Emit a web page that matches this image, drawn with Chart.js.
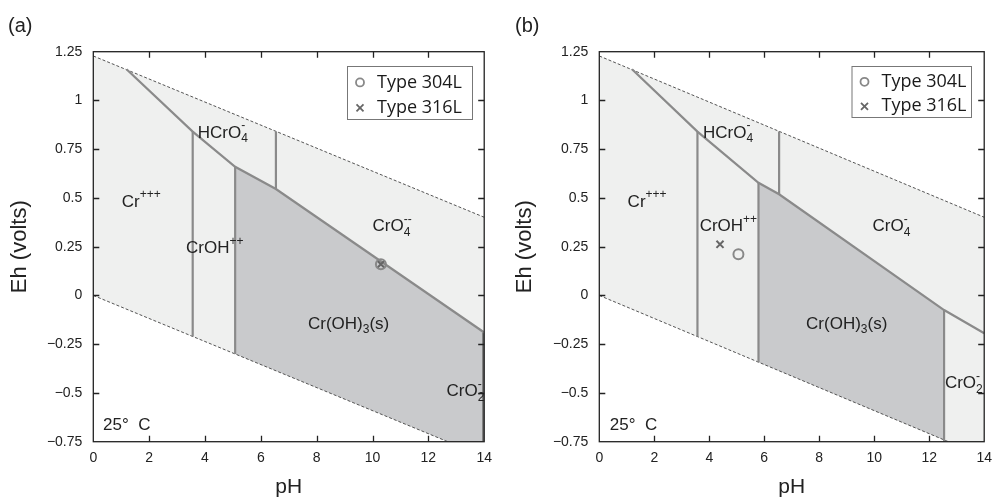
<!DOCTYPE html>
<html>
<head>
<meta charset="utf-8">
<script src="https://cdn.jsdelivr.net/npm/chart.js@4.4.0/dist/chart.umd.min.js"></script>
<style>
  body { margin: 0; background: #fff; width: 1000px; height: 498px; overflow: hidden; position: relative; }
  .panel { position: absolute; top: 0; width: 500px; height: 498px; }
  .tag { position: absolute; top: 14px; font: 20px "Liberation Sans", Arial, sans-serif; color: #222; }
</style>
</head>
<body>
<div class="panel" style="left:0"><canvas id="chartA" width="500" height="498"></canvas></div>
<div class="panel" style="left:500px"><canvas id="chartB" width="500" height="498"></canvas></div>
<div class="tag" style="left:8px">(a)</div>
<div class="tag" style="left:515px">(b)</div>
<script>
// axes
const xTicks = [0, 2, 4, 6, 8, 10, 12, 14];
const yTicks = [-0.75, -0.5, -0.25, 0, 0.25, 0.5, 0.75, 1, 1.25];
const yTickLabels = ['\u22120.75', '\u22120.5', '\u22120.25', '0', '0.25', '0.5', '0.75', '1', '1.25'];

// water stability lines
const waterPH = [0, 14];
const waterUpperEh = [1.228, 0.401];
const waterLowerEh = [0, -0.827];

// panel (a)
const aBoundaryPH = [1.19, 3.56, 5.08, 6.54, 14];
const aBoundaryEh = [1.16, 0.84, 0.66, 0.546, -0.19];
const aSolidTopPH = [5.08, 6.54, 14];
const aSolidTopEh = [0.66, 0.546, -0.19];
const aSolidBottomPH = [5.08, 14];
const aSolidBottomEh = [-0.30, -0.827];
const aVerticalPH = [3.56, 5.08, 6.54, 13.97];
const aVerticalFromEh = [0.84, 0.66, 0.546, -0.19];
const aVerticalToEh = [-0.21, -0.30, 0.841, -0.75];
const a304LPH = [10.3];
const a304LEh = [0.16];
const a316LPH = [10.3];
const a316LEh = [0.16];

// panel (b)
const bBoundaryPH = [1.19, 3.57, 5.79, 6.54, 12.54, 14];
const bBoundaryEh = [1.16, 0.84, 0.578, 0.519, -0.075, -0.194];
const bSolidTopPH = [5.79, 6.54, 12.54];
const bSolidTopEh = [0.578, 0.519, -0.075];
const bSolidBottomPH = [5.79, 12.54];
const bSolidBottomEh = [-0.342, -0.741];
const bVerticalPH = [3.57, 5.79, 6.54, 12.54];
const bVerticalFromEh = [0.84, 0.578, 0.519, -0.075];
const bVerticalToEh = [-0.211, -0.342, 0.841, -0.75];
const b304LPH = [5.06];
const b304LEh = [0.211];
const b316LPH = [4.39];
const b316LEh = [0.262];

// species labels (text pieces + anchor in pH / Eh)
const aLabels = [
  { parts: [{ t: 'Cr' }, { sup: '+++' }], x: 1.02, y: 0.48 },
  { parts: [{ t: 'HCrO' }, { sub: '4', sup: '-' }], x: 3.74, y: 0.833 },
  { parts: [{ t: 'CrOH' }, { sup: '++' }], x: 3.32, y: 0.242 },
  { parts: [{ t: 'CrO' }, { sub: '4', sup: '--' }], x: 10.0, y: 0.353 },
  { parts: [{ t: 'Cr(OH)' }, { sub: '3' }, { t: '(s)' }], x: 7.69, y: -0.146 },
  { parts: [{ t: 'CrO' }, { sub: '2', sup: '-' }], x: 12.65, y: -0.494 },
  { parts: [{ t: '25\u00b0  C' }], x: 0.35, y: -0.664 }
];
const bLabels = [
  { parts: [{ t: 'Cr' }, { sup: '+++' }], x: 1.03, y: 0.48 },
  { parts: [{ t: 'HCrO' }, { sub: '4', sup: '-' }], x: 3.77, y: 0.833 },
  { parts: [{ t: 'CrOH' }, { sup: '++' }], x: 3.65, y: 0.353 },
  { parts: [{ t: 'CrO' }, { sub: '4', sup: '-' }], x: 9.94, y: 0.353 },
  { parts: [{ t: 'Cr(OH)' }, { sub: '3' }, { t: '(s)' }], x: 7.52, y: -0.146 },
  { parts: [{ t: 'CrO' }, { sub: '2', sup: '-' }], x: 12.57, y: -0.45 },
  { parts: [{ t: '25\u00b0  C' }], x: 0.38, y: -0.664 }
];

const FONT = '"Liberation Sans", Arial, sans-serif';
Chart.defaults.font.family = FONT;
Chart.defaults.color = '#222';

const LIGHT = '#eff0ef';
const DARK = '#c9cacc';
const EDGE = '#8a8a8a';

function pts(ph, eh) {
  return ph.map((x, i) => ({ x: x, y: eh[i] }));
}

function line(ph, eh, style) {
  return Object.assign({
    data: pts(ph, eh), showLine: true, pointRadius: 0, borderWidth: 0,
    fill: false, tension: 0
  }, style);
}

function drawChem(ctx, x, y, parts) {
  ctx.textBaseline = 'middle';
  ctx.textAlign = 'left';
  ctx.fillStyle = '#222';
  parts.forEach(p => {
    if (p.t) {
      ctx.font = '17px ' + FONT;
      ctx.fillText(p.t, x, y);
      x += ctx.measureText(p.t).width;
    } else {
      ctx.font = '12px ' + FONT;
      let w = 0;
      if (p.sub) {
        ctx.fillText(p.sub, x, y + 6);
        w = ctx.measureText(p.sub).width;
      }
      if (p.sup) {
        ctx.fillText(p.sup, x, y - 7);
        w = Math.max(w, ctx.measureText(p.sup).width);
      }
      x += w;
    }
  });
}

const labelPlugin = {
  id: 'speciesLabels',
  afterDatasetsDraw(chart, args, opts) {
    const ctx = chart.ctx;
    ctx.save();
    opts.items.forEach(l => {
      drawChem(ctx, chart.scales.x.getPixelForValue(l.x), chart.scales.y.getPixelForValue(l.y), l.parts);
    });
    ctx.restore();
  }
};

// inward ticks on all four sides plus the frame
const framePlugin = {
  id: 'frame',
  afterDatasetsDraw(chart) {
    const { ctx, chartArea: a, scales } = chart;
    ctx.save();
    ctx.strokeStyle = '#222';
    ctx.lineWidth = 1.3;
    ctx.strokeRect(a.left, a.top, a.right - a.left, a.bottom - a.top);
    ctx.beginPath();
    xTicks.slice(1, -1).forEach(v => {
      const px = Math.round(scales.x.getPixelForValue(v)) + 0.5;
      ctx.moveTo(px, a.bottom); ctx.lineTo(px, a.bottom - 6);
      ctx.moveTo(px, a.top); ctx.lineTo(px, a.top + 6);
    });
    yTicks.slice(1, -1).forEach(v => {
      const py = Math.round(scales.y.getPixelForValue(v)) + 0.5;
      ctx.moveTo(a.left, py); ctx.lineTo(a.left + 6, py);
      ctx.moveTo(a.right, py); ctx.lineTo(a.right - 6, py);
    });
    ctx.stroke();
    ctx.restore();
  }
};

const legendPlugin = {
  id: 'boxLegend',
  afterDraw(chart, args, opts) {
    const ctx = chart.ctx;
    const b = opts.box;
    ctx.save();
    ctx.fillStyle = '#fff';
    ctx.fillRect(b.left, b.top, b.width, b.height);
    ctx.strokeStyle = '#777';
    ctx.lineWidth = 1;
    ctx.strokeRect(b.left + 0.5, b.top + 0.5, b.width, b.height);
    const rows = [b.top + b.height * 0.31, b.top + b.height * 0.79];
    const mx = b.left + 13;
    ctx.strokeStyle = '#888';
    ctx.lineWidth = 1.8;
    ctx.beginPath();
    ctx.arc(mx, rows[0], 4, 0, Math.PI * 2);
    ctx.stroke();
    ctx.strokeStyle = '#666';
    ctx.beginPath();
    ctx.moveTo(mx - 3.5, rows[1] - 3.5); ctx.lineTo(mx + 3.5, rows[1] + 3.5);
    ctx.moveTo(mx + 3.5, rows[1] - 3.5); ctx.lineTo(mx - 3.5, rows[1] + 3.5);
    ctx.stroke();
    ctx.fillStyle = '#1a1a1a';
    ctx.font = '18px "Open Sans", sans-serif';
    ctx.textBaseline = 'middle';
    ctx.fillText('Type 304L', b.left + 30, rows[0]);
    ctx.fillText('Type 316L', b.left + 30, rows[1]);
    ctx.restore();
  }
};

function makeChart(id, d) {
  return new Chart(document.getElementById(id), {
    type: 'scatter',
    data: {
      datasets: [
        line(waterPH, waterUpperEh, { fill: 1, backgroundColor: LIGHT, order: 20 }),
        line(waterPH, waterLowerEh, { order: 20 }),
        line(d.solidTopPH, d.solidTopEh, { fill: 3, backgroundColor: DARK, order: 19 }),
        line(d.solidBottomPH, d.solidBottomEh, { order: 19 }),
        line(waterPH, waterUpperEh, { borderColor: '#555', borderWidth: 1, borderDash: [3, 2], order: 5 }),
        line(waterPH, waterLowerEh, { borderColor: '#555', borderWidth: 1, borderDash: [3, 2], order: 5 }),
        line(d.boundaryPH, d.boundaryEh, { borderColor: EDGE, borderWidth: 2.2, order: 4 }),
        ...d.verticalPH.map((v, i) => line([v, v], [d.verticalFromEh[i], d.verticalToEh[i]],
          { borderColor: i === d.verticalPH.length - 1 && d.darkLast ? '#666' : EDGE, borderWidth: 2.2, order: 4 })),
        { data: pts(d.p304PH, d.p304Eh), pointStyle: 'circle', pointRadius: 5, borderColor: '#888',
          backgroundColor: 'rgba(0,0,0,0)', borderWidth: 2, order: 1 },
        { data: pts(d.p316PH, d.p316Eh), pointStyle: 'crossRot', pointRadius: 5, borderColor: '#666',
          borderWidth: 2, order: 1 }
      ]
    },
    options: {
      responsive: false,
      devicePixelRatio: 1,
      animation: false,
      layout: { padding: { left: 0, right: d.padRight, top: 51.7, bottom: 0 } },
      plugins: {
        legend: { display: false },
        tooltip: { enabled: false },
        speciesLabels: { items: d.labels },
        boxLegend: { box: d.legendBox }
      },
      scales: {
        x: {
          type: 'linear', min: 0, max: 14,
          afterBuildTicks: s => { s.ticks = xTicks.map(v => ({ value: v })); },
          afterFit: s => { s.height = 56.3; },
          grid: { display: false, drawTicks: false },
          border: { display: false },
          ticks: { font: { size: 14 }, color: '#222', padding: 8, maxRotation: 0, autoSkip: false },
          title: { display: true, text: 'pH', font: { size: 21, lineHeight: 1 }, color: '#222', padding: { top: 0, bottom: 0 } }
        },
        y: {
          type: 'linear', min: -0.75, max: 1.25,
          afterBuildTicks: s => { s.ticks = yTicks.map(v => ({ value: v })); },
          afterFit: s => { s.width = d.yWidth; },
          grid: { display: false, drawTicks: false },
          border: { display: false },
          ticks: {
            font: { size: 14 }, color: '#222', padding: 11, autoSkip: false,
            callback: v => yTickLabels[yTicks.indexOf(v)]
          },
          title: { display: true, text: 'Eh (volts)', font: { size: 22, lineHeight: 1 }, color: '#222', padding: { top: d.yTitlePad, bottom: 0 } }
        }
      }
    },
    plugins: [framePlugin, labelPlugin, legendPlugin]
  });
}

makeChart('chartA', {
  boundaryPH: aBoundaryPH, boundaryEh: aBoundaryEh,
  solidTopPH: aSolidTopPH, solidTopEh: aSolidTopEh,
  solidBottomPH: aSolidBottomPH, solidBottomEh: aSolidBottomEh,
  verticalPH: aVerticalPH, verticalFromEh: aVerticalFromEh, verticalToEh: aVerticalToEh,
  p304PH: a304LPH, p304Eh: a304LEh, p316PH: a316LPH, p316Eh: a316LEh,
  labels: aLabels, darkLast: true,
  padRight: 15.7, yWidth: 93.3, yTitlePad: 9,
  legendBox: { left: 347, top: 66, width: 125, height: 53 }
});

makeChart('chartB', {
  boundaryPH: bBoundaryPH, boundaryEh: bBoundaryEh,
  solidTopPH: bSolidTopPH, solidTopEh: bSolidTopEh,
  solidBottomPH: bSolidBottomPH, solidBottomEh: bSolidBottomEh,
  verticalPH: bVerticalPH, verticalFromEh: bVerticalFromEh, verticalToEh: bVerticalToEh,
  p304PH: b304LPH, p304Eh: b304LEh, p316PH: b316LPH, p316Eh: b316LEh,
  labels: bLabels, darkLast: false,
  padRight: 8.3, yWidth: 99.3, yTitlePad: 14,
  legendBox: { left: 351.5, top: 66, width: 119.5, height: 51 }
});
</script>
</body>
</html>
